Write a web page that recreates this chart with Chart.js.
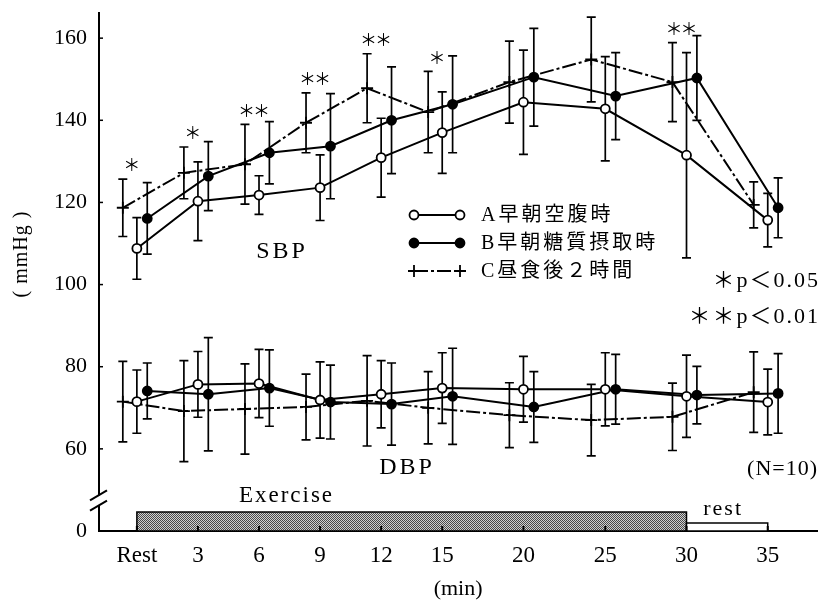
<!DOCTYPE html>
<html><head><meta charset="utf-8">
<script src="https://cdn.jsdelivr.net/npm/chart.js@4/dist/chart.umd.min.js"></script>
<style>html,body{margin:0;padding:0;background:#fff}#wrap{width:825px;height:605px;position:relative}</style>
</head><body><div id="wrap"><canvas id="c"></canvas></div>
<script>
// ---- data ----
const categories = ['Rest','3','6','9','12','15','20','25','30','35'];
const slotPos    = [0, 1, 2, 3, 4, 5, 6.33, 7.67, 9, 10.33];   // axis slots (nonuniform time axis)
const seriesNames = ['A早朝空腹時','B早朝糖質摂取時','C昼食後２時間'];

const sbpA   = [108.8,120.3,121.8,123.6,130.9,137.0,144.4,142.8,131.5,115.7];
const sbpAsd = [7.5, 9.6, 4.7, 8.0, 9.6, 9.9, 12.7, 12.7, 25.0, 6.5];
const sbpB   = [116.1,126.4,132.1,133.7,140.0,143.9,150.5,145.9,150.3,118.7];
const sbpBsd = [8.7, 8.4, 7.6, 12.8, 13.0, 11.8, 11.9, 10.6, 10.3, 7.3];
const sbpC   = [118.7,127.2,129.3,139.4,147.8,142.0,149.3,154.8,149.3,119.4];
const sbpCsd = [7.0, 6.3, 9.7, 7.3, 8.4, 9.9, 10.0, 10.3, 9.6, 5.6];

const dbpA   = [71.5,75.7,75.9,71.9,73.3,74.8,74.5,74.5,72.8,71.4];
const dbpAsd = [7.7, 8.0, 8.3, 9.3, 8.2, 8.6, 8.0, 8.9, 10.0, 8.0];
const dbpB   = [74.1,73.3,74.8,71.4,70.9,72.8,70.2,74.5,73.1,73.5];
const dbpBsd = [6.8, 13.8, 9.3, 9.0, 10.0, 11.7, 8.6, 8.5, 7.0, 9.7];
const dbpC   = [71.5,69.2,69.7,70.2,71.7,70.0,68.2,67.0,67.8,73.8];
const dbpCsd = [9.8, 12.3, 11.0, 8.0, 11.0, 8.8, 7.9, 8.7, 8.2, 9.8];

const significance = ['*','*','**','**','**','*','','','**',''];
const yTickValues = [40, 60, 80, 100, 120, 140, 160];   // 40 sits at the axis break and is labelled 0
const yTickLabels = ['0','60','80','100','120','140','160'];
const phaseLabels = ['Exercise','rest'];
const phaseStart  = [0, 8];   // category index
const phaseEnd    = [8, 9];

// ---- styles ----
const SERIF = "'Liberation Serif','Noto Sans CJK JP',serif";
const offs = [0, 0.17, -0.23];
const styles = [
  {pointStyle:'circle', pointRadius:4.5, pointBackgroundColor:'#fff', borderDash:[]},
  {pointStyle:'circle', pointRadius:4.5, pointBackgroundColor:'#000', borderDash:[]},
  {pointStyle:'cross',  pointRadius:6,   pointBackgroundColor:'#000', borderDash:[14,3,3,3]}
];
function mk(vals, sd, k, group){
  return Object.assign({
    label: seriesNames[k], group: group, sIdx: k, errors: sd,
    data: vals.map((v,i)=>({x: slotPos[i] + offs[k], y: v})),
    borderColor:'#000', borderWidth:2, pointBorderColor:'#000', pointBorderWidth:1.8,
    tension:0, fill:false
  }, styles[k]);
}
const datasets = [
  mk(sbpA,sbpAsd,0,'SBP'), mk(sbpB,sbpBsd,1,'SBP'), mk(sbpC,sbpCsd,2,'SBP'),
  mk(dbpA,dbpAsd,0,'DBP'), mk(dbpB,dbpBsd,1,'DBP'), mk(dbpC,dbpCsd,2,'DBP')
];

function hatch(ctx){
  const p = document.createElement('canvas'); p.width = 2; p.height = 2;
  const c = p.getContext('2d');
  c.fillStyle = '#d0d0d0'; c.fillRect(0,0,2,2);
  c.fillStyle = '#4a4a4a'; c.fillRect(0,0,1,1); c.fillRect(1,1,1,1);
  return ctx.createPattern(p,'repeat');
}
function txt(ctx, s, x, y, font, align, spacing){
  ctx.font = font; ctx.textAlign = align || 'center'; ctx.textBaseline = 'middle';
  if ('letterSpacing' in ctx) ctx.letterSpacing = (spacing || 0) + 'px';
  ctx.fillText(s, x, y);
  if ('letterSpacing' in ctx) ctx.letterSpacing = '0px';
}

const decor = {
  id:'decor',
  beforeDatasetsDraw(chart){
    const ctx = chart.ctx, xs = chart.scales.x, ys = chart.scales.y;
    ctx.save(); ctx.strokeStyle = '#000'; ctx.lineWidth = 1.7; ctx.setLineDash([]);
    chart.data.datasets.forEach(ds=>{
      ds.data.forEach((pt,i)=>{
        const x = xs.getPixelForValue(pt.x);
        const yt = ys.getPixelForValue(pt.y + ds.errors[i]);
        const yb = ys.getPixelForValue(pt.y - ds.errors[i]);
        ctx.beginPath();
        ctx.moveTo(x,yt); ctx.lineTo(x,yb);
        ctx.moveTo(x-4.5,yt); ctx.lineTo(x+4.5,yt);
        ctx.moveTo(x-4.5,yb); ctx.lineTo(x+4.5,yb);
        ctx.stroke();
      });
    });
    ctx.restore();
  },
  afterDraw(chart){
    const ctx = chart.ctx, xs = chart.scales.x, ys = chart.scales.y, ca = chart.chartArea;
    ctx.save();
    // inward tick marks on y axis
    ctx.strokeStyle = '#000'; ctx.lineWidth = 1.5;
    yTickValues.forEach(v=>{ const y = ys.getPixelForValue(v); ctx.beginPath(); ctx.moveTo(ca.left, y); ctx.lineTo(ca.left+4, y); ctx.stroke(); });
    // phase blocks
    const yBase = ys.getPixelForValue(40);
    phaseLabels.forEach((lab,k)=>{
      const x0 = xs.getPixelForValue(slotPos[phaseStart[k]]);
      const x1 = xs.getPixelForValue(slotPos[phaseEnd[k]]);
      const h = k === 0 ? 19 : 8;
      ctx.fillStyle = k === 0 ? hatch(ctx) : '#fff';
      ctx.fillRect(x0, yBase-h, x1-x0, h);
      ctx.lineWidth = 1.5; ctx.strokeStyle = '#000';
      ctx.strokeRect(x0, yBase-h, x1-x0, h);
    });
    ctx.fillStyle = '#000';
    slotPos.forEach(p=>{ const x = xs.getPixelForValue(p); ctx.fillRect(x-1, yBase-5, 2, 5); });
    txt(ctx, phaseLabels[0], xs.getPixelForValue(2.45), yBase - 35, '23px ' + SERIF, 'center', 2);
    txt(ctx, phaseLabels[1], xs.getPixelForValue(9.6), yBase - 22, '22px ' + SERIF, 'center', 2);
    // axis break
    const yb1 = ys.getPixelForValue(48.7), yb2 = ys.getPixelForValue(46.2);
    ctx.fillStyle = '#fff'; ctx.fillRect(ca.left-2, yb1, 4, yb2-yb1);
    ctx.strokeStyle = '#000'; ctx.lineWidth = 2;
    [yb1, yb2].forEach(y=>{ ctx.beginPath(); ctx.moveTo(ca.left-9, y+5); ctx.lineTo(ca.left+8, y-5); ctx.stroke(); });
    // y axis title
    ctx.save(); ctx.translate(22, 254); ctx.rotate(-Math.PI/2);
    ctx.fillStyle = '#000';
    txt(ctx, '( mmHg )', 0, 0, '20px ' + SERIF, 'center', 1);
    ctx.restore();
    // significance marks
    ctx.fillStyle = '#000';
    significance.forEach((s,i)=>{
      if(!s) return;
      const x = xs.getPixelForValue(slotPos[i] + offs[2] + 0.13);
      const y = ys.getPixelForValue(sbpC[i] + sbpCsd[i]) - 14;
      txt(ctx, s.replace(/\*/g,'＊'), x, y, "17px 'Noto Sans CJK JP'", 'center', -2);
    });
    // group labels and notes
    txt(ctx, 'SBP', 282, 252, '24px ' + SERIF, 'center', 3);
    txt(ctx, 'DBP', 407, 468, '24px ' + SERIF, 'center', 3);
    txt(ctx, '(N=10)', 818, 469, '22px ' + SERIF, 'right', 1);
    txt(ctx, '＊p＜0.05', 820, 281, '22px ' + SERIF, 'right', 2);
    txt(ctx, '＊＊p＜0.01', 820, 317, '22px ' + SERIF, 'right', 2);
    // legend
    [0,1,2].forEach(k=>{
      const ds = chart.data.datasets[k];
      const y = 215 + 28*k, xa = 414, xb = 460;
      ctx.strokeStyle = '#000'; ctx.lineWidth = 1.8; ctx.setLineDash(ds.borderDash);
      ctx.beginPath(); ctx.moveTo(xa,y); ctx.lineTo(xb,y); ctx.stroke(); ctx.setLineDash([]);
      ctx.fillStyle = ds.pointBackgroundColor; ctx.strokeStyle = '#000'; ctx.lineWidth = 1.8;
      [xa,xb].forEach(x=>{
        Chart.helpers.drawPoint(ctx, {pointStyle: ds.pointStyle, radius: ds.pointRadius, borderWidth:1.8}, x, y);
      });
      ctx.fillStyle = '#000';
      txt(ctx, ds.label, 481, y+1, '20px ' + SERIF, 'left', 3);
    });
    ctx.restore();
  }
};

const cfg = {
  type:'line',
  data:{ datasets: datasets },
  options:{
    responsive:false, animation:false, devicePixelRatio:1,
    layout:{ padding:{ top:0, right:3, left:0, bottom:0 } },
    plugins:{ legend:{display:false}, tooltip:{enabled:false} },
    scales:{
      x:{ type:'linear', min:-0.62, max:11.14,
          grid:{display:false, drawTicks:false}, border:{display:true, color:'#000', width:2},
          afterBuildTicks: s=>{ s.ticks = slotPos.map(v=>({value:v})); },
          afterFit: s=>{ s.height = 74; },
          ticks:{ autoSkip:false, maxRotation:0, padding:11, color:'#000', font:{family:SERIF, size:23},
                  callback:(v,i)=>categories[i] },
          title:{ display:true, text:'(min)', color:'#000', font:{family:SERIF, size:22}, padding:{top:0,bottom:3} } },
      y:{ type:'linear', min:40, max:166.1,
          grid:{display:false, drawTicks:false}, border:{display:true, color:'#000', width:2},
          afterBuildTicks: s=>{ s.ticks = yTickValues.map(v=>({value:v})); },
          afterFit: s=>{ s.width = 99; },
          ticks:{ padding:12, color:'#000', font:{family:SERIF, size:22, lineHeight:0.1},
                  callback:(v,i)=>yTickLabels[i] },
          title:{ display:false } }
    }
  },
  plugins:[decor]
};
const cv = document.getElementById('c'); cv.width = 825; cv.height = 605;
new Chart(cv, cfg);
</script></body></html>
